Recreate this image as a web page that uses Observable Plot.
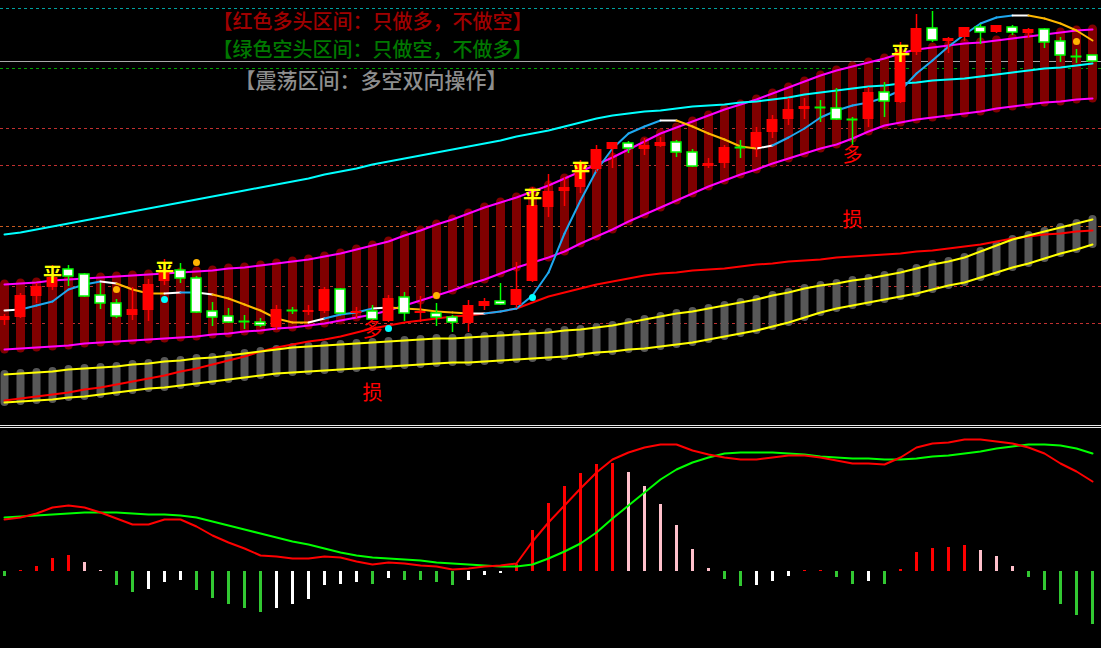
<!DOCTYPE html>
<html><head><meta charset="utf-8">
<script src="https://cdn.jsdelivr.net/npm/d3@7"></script>
<script src="https://cdn.jsdelivr.net/npm/@observablehq/plot@0.6"></script>
<style>
html,body{margin:0;padding:0;background:#000;overflow:hidden;}
#chart svg{display:block;}
</style></head><body><div id="chart"></div>
<script>
// ---------- data ----------
const candleOpen = [18.0,18.3,20.4,21.3,23.1,22.6,20.5,19.7,18.5,19.0, 21.9,23.0,22.2,18.9,18.4,17.9,17.8,17.3,19.0,18.8, 18.9,21.1,18.7,18.9,17.9,20.3,18.7,18.7,18.3,17.7, 19.4,19.9,19.5,21.9,29.3,30.9,31.3,33.1,35.1,35.7, 35.1,35.4,35.8,34.8,33.4,33.7,35.3,35.3,36.8,38.1, 39.1,39.3,39.2,38.1,38.1,40.8,39.8,44.8,47.2,45.9, 46.3,47.3,46.8,47.3,46.7,47.1,45.9,44.4,44.5];
const candleHigh = [18.6,20.7,21.7,23.5,23.5,22.7,21.7,20.1,21.3,22.1, 24.1,23.7,22.4,19.8,19.2,18.5,18.2,19.5,19.3,19.5, 21.3,21.2,19.3,19.5,20.5,20.8,20.4,19.7,18.5,20.0, 20.2,21.7,23.8,31.3,32.6,32.3,34.0,35.5,35.8,35.9, 36.2,36.3,36.0,35.1,34.2,35.5,36.0,37.3,38.5,40.2, 40.2,40.0,41.2,38.3,41.3,41.8,45.8,48.6,48.9,46.3, 47.3,47.6,47.5,47.5,47.2,47.2,46.3,45.1,44.5];
const candleLow = [17.5,18.2,19.7,21.0,21.4,20.3,19.1,18.2,18.0,17.9, 21.5,21.7,18.7,17.4,17.7,17.1,17.3,17.0,18.6,18.5, 18.7,18.6,18.2,18.0,17.8,17.9,17.8,17.4,16.8,16.8, 19.0,19.5,19.2,21.8,28.3,29.4,30.7,32.8,33.2,34.7, 34.5,35.3,34.3,33.3,33.2,33.2,34.2,34.3,36.2,37.5, 38.1,37.8,38.0,35.5,37.3,38.3,39.7,44.5,45.8,44.7, 45.9,45.6,46.7,46.5,46.2,45.2,43.8,43.7,43.8];
const candleClose = [18.4,20.5,21.4,22.3,22.4,20.4,19.7,18.4,19.1,21.6, 22.8,22.2,18.8,18.3,17.8,17.9,17.5,19.1,19.0,19.0, 21.1,18.7,18.9,18.1,20.2,18.7,18.9,18.3,17.8,19.5, 19.9,19.6,21.1,29.5,30.9,31.3,33.7,35.1,35.8,35.2, 35.5,35.8,34.8,33.4,33.7,35.3,35.3,36.8,38.1,39.1, 39.4,39.3,38.1,38.1,40.8,39.9,44.8,47.2,46.0,46.2, 47.3,46.8,47.5,46.8,47.1,45.8,44.5,44.4,43.9];

const bandUpper = [21.6,21.7,21.8,22.0,22.1,22.2,22.3,22.4,22.5,22.6, 22.7,22.8,22.9,23.0,23.2,23.3,23.5,23.7,23.9,24.1, 24.4,24.7,25.1,25.5,25.9,26.5,27.0,27.6,28.1,28.7, 29.3,29.8,30.3,30.9,31.5,32.2,32.9,33.6,34.3,35.1, 35.9,36.7,37.3,37.9,38.5,39.1,39.6,40.1,40.7,41.3, 41.9,42.5,43.0,43.4,43.8,44.2,44.7,45.1,45.3,45.5, 45.7,45.8,46.0,46.2,46.4,46.6,46.8,47.0,47.1];
const bandLower = [15.1,15.2,15.3,15.4,15.5,15.7,15.8,15.9,16.0,16.1, 16.2,16.3,16.4,16.6,16.7,16.9,17.0,17.2,17.3,17.5, 17.7,18.0,18.3,18.6,19.0,19.5,20.0,20.5,21.0,21.6, 22.1,22.7,23.3,23.8,24.3,24.9,25.7,26.4,27.1,27.9, 28.6,29.3,30.0,30.7,31.4,32.0,32.6,33.1,33.7,34.2, 34.7,35.2,35.6,36.2,36.9,37.5,37.8,38.1,38.3,38.5, 38.7,38.9,39.2,39.4,39.6,39.8,39.9,40.1,40.2];
const channelUpper = [12.6,12.7,12.8,12.9,13.1,13.2,13.3,13.4,13.6,13.7, 13.9,14.0,14.2,14.3,14.5,14.7,14.9,15.1,15.3,15.4, 15.5,15.6,15.7,15.8,15.9,16.0,16.1,16.2,16.2,16.3, 16.4,16.5,16.6,16.7,16.8,17.0,17.1,17.3,17.5,17.8, 18.1,18.4,18.7,18.9,19.2,19.5,19.8,20.1,20.5,20.8, 21.2,21.5,21.7,22.0,22.2,22.5,22.8,23.2,23.6,23.9, 24.3,24.9,25.5,26.1,26.5,26.9,27.3,27.7,28.1];
const channelLower = [9.8,9.9,10.0,10.1,10.3,10.4,10.6,10.8,11.0,11.2, 11.3,11.5,11.7,11.9,12.1,12.3,12.5,12.7,12.8,12.9, 13.0,13.1,13.2,13.3,13.4,13.5,13.6,13.7,13.8,13.8, 13.9,14.0,14.1,14.2,14.3,14.4,14.6,14.8,14.9,15.1, 15.2,15.4,15.6,15.8,16.1,16.4,16.7,17.0,17.4,17.8, 18.3,18.8,19.2,19.5,19.8,20.1,20.4,20.7,21.1,21.5, 21.8,22.3,22.8,23.3,23.7,24.2,24.7,25.1,25.6];
const maRed = [10.0,10.2,10.4,10.6,10.8,11.1,11.3,11.6,11.9,12.2, 12.5,12.9,13.2,13.6,14.0,14.4,14.9,15.3,15.6,15.9, 16.1,16.4,16.8,17.2,17.5,17.8,18.0,18.2,18.4,18.5, 18.7,18.9,19.2,19.8,20.4,20.8,21.2,21.6,21.9,22.2, 22.5,22.7,22.8,23.0,23.1,23.2,23.4,23.6,23.7,23.9, 24.0,24.1,24.3,24.4,24.5,24.6,24.7,24.9,25.0,25.2, 25.4,25.6,25.9,26.2,26.4,26.6,26.7,26.9,27.0];
const maCyan = [26.6,26.8,27.1,27.4,27.7,28.0,28.3,28.6,28.9,29.2, 29.5,29.8,30.1,30.4,30.7,31.0,31.3,31.6,31.9,32.2, 32.6,32.9,33.2,33.6,33.9,34.2,34.5,34.8,35.1,35.4, 35.7,36.0,36.4,36.7,37.0,37.4,37.8,38.2,38.5,38.7, 38.9,39.0,39.2,39.4,39.5,39.6,39.8,39.9,40.1,40.3, 40.6,40.8,41.0,41.2,41.4,41.5,41.7,41.8,42.0,42.1, 42.2,42.4,42.6,42.8,43.0,43.2,43.3,43.5,43.7];
const trendLine = [19.0,19.1,19.5,19.9,21.1,21.6,21.9,21.7,21.1,20.7, 20.7,20.8,20.8,20.6,20.2,19.6,19.0,18.2,17.8,17.8, 18.2,18.6,18.8,19.2,19.3,19.2,19.1,18.9,18.8,18.7, 18.7,18.9,19.2,20.5,22.8,26.7,30.0,33.0,35.2,36.7, 37.4,38.0,38.0,37.4,36.7,36.1,35.4,35.2,35.5,36.3, 37.2,38.3,39.0,39.5,39.8,40.3,41.0,42.7,44.0,45.4, 46.6,47.7,48.3,48.5,48.5,48.2,47.7,47.0,46.0];
// colour state of each segment: b = rising, w = flat, o = falling
const trendState = "wbbbbbwooowbwoooooowbbbwooooowbbbbbbbbbbbwooooowbbbbbbbbbbbbbbbwooooo".split("");

const pingIdx = [3,10,33,36,56];          const pingPrice = [22.6,23.0,30.3,33.0,44.7];
const orangeDotIdx = [7,12,27,67];        const orangeDotPrice = [21.1,23.8,20.5,45.9];
const cyanDotIdx = [10,24,33];            const cyanDotPrice = [20.1,17.2,20.3];
const duoIdx = [23,53];                   const duoPrice = [17.0,34.5];
const sunIdx = [23,53];                   const sunPrice = [10.7,28.0];

const levelTeal = [49.2], levelGray = [43.9], levelGreen = [43.2];
const levelRed = [37.2,33.5,21.4,17.7], levelOrange = [27.4];
const separators = [7.5,7.3];

const titles = ["【红色多头区间：只做多，不做空】","【绿色空头区间：只做空，不做多】","【震荡区间：多空双向操作】"];
const titlePrice = [47.8,45.0,41.9];

const dif = [0.52,0.54,0.58,0.64,0.66,0.64,0.59,0.53,0.47,0.47, 0.52,0.52,0.45,0.36,0.29,0.23,0.16,0.15,0.13,0.13, 0.15,0.14,0.10,0.07,0.09,0.08,0.06,0.05,0.02,0.03, 0.05,0.06,0.08,0.30,0.49,0.66,0.83,0.99,1.12,1.19, 1.24,1.27,1.27,1.21,1.17,1.14,1.12,1.12,1.14,1.16, 1.16,1.14,1.11,1.08,1.08,1.07,1.14,1.24,1.28,1.29, 1.32,1.32,1.30,1.28,1.24,1.18,1.08,1.00,0.90];
const dea = [0.54,0.55,0.56,0.57,0.58,0.59,0.59,0.59,0.58,0.57, 0.57,0.56,0.54,0.50,0.46,0.42,0.38,0.34,0.30,0.27, 0.23,0.19,0.16,0.14,0.13,0.12,0.11,0.09,0.08,0.07, 0.06,0.05,0.05,0.07,0.13,0.20,0.28,0.39,0.53,0.66, 0.79,0.92,1.02,1.09,1.14,1.18,1.19,1.19,1.19,1.18, 1.17,1.15,1.14,1.13,1.13,1.12,1.12,1.13,1.15,1.16, 1.18,1.20,1.23,1.25,1.27,1.27,1.26,1.23,1.18];
const hist = [-0.05,0.01,0.05,0.13,0.16,0.09,0.01,-0.14,-0.21,-0.18, -0.11,-0.09,-0.19,-0.27,-0.33,-0.37,-0.41,-0.37,-0.33,-0.28, -0.14,-0.13,-0.11,-0.13,-0.07,-0.09,-0.09,-0.11,-0.14,-0.09, -0.04,-0.02,0.07,0.41,0.68,0.85,0.98,1.07,1.08,0.99, 0.85,0.67,0.46,0.22,0.03,-0.08,-0.15,-0.14,-0.10,-0.05, 0.01,0.01,-0.06,-0.13,-0.10,-0.13,0.02,0.19,0.23,0.24, 0.26,0.21,0.15,0.05,-0.06,-0.19,-0.33,-0.44,-0.53];

// ---------- build ----------
const N = candleOpen.length;
const idx = d3.range(N);
const candles = idx.map(i => ({i, open: candleOpen[i], high: candleHigh[i], low: candleLow[i], close: candleClose[i]}));
const ups = candles.filter(d => d.close > d.open);
const downs = candles.filter(d => d.close < d.open);
const dojis = candles.filter(d => d.close === d.open);
const segs = idx.slice(0, N - 1).map(i => ({x1: i, y1: trendLine[i], x2: i + 1, y2: trendLine[i + 1], s: trendState[i]}));
const trendColor = {b: "#1ea8f0", w: "#ffffff", o: "#ffb800"};
const pts = (ix, pr) => ix.map((i, k) => ({i, p: pr[k]}));
const CJK = "Noto Sans CJK SC";
const xDomain = [-0.25, 68.5625];
const hw = 0.34;

const upperChart = Plot.plot({
  width: 1101, height: 428, margin: 0,
  x: {domain: xDomain, axis: null},
  y: {domain: [7.2, 50], axis: null},
  color: {type: "identity"},
  style: {background: "#000"},
  marks: [
    Plot.ruleY(levelTeal, {stroke: "#00a0a0", strokeDasharray: "3,3"}),
    Plot.ruleY(levelGreen, {stroke: "#00a000", strokeDasharray: "3,3"}),
    Plot.ruleY(levelRed, {stroke: "#c03030", strokeDasharray: "3,3"}),
    Plot.ruleY(levelOrange, {stroke: "#c85a20", strokeDasharray: "3,3"}),
    Plot.ruleY(levelGray, {stroke: "#a8a8a8"}),
    Plot.ruleX(idx, {x: i => i, y1: i => channelLower[i], y2: i => channelUpper[i], stroke: "#585858", strokeWidth: 8, strokeLinecap: "round"}),
    Plot.ruleX(idx, {x: i => i, y1: i => bandLower[i], y2: i => bandUpper[i], stroke: "#800000", strokeWidth: 9, strokeLinecap: "round"}),
    Plot.line(idx, {x: i => i, y: i => maRed[i], stroke: "#ff0000", strokeWidth: 2}),
    Plot.line(idx, {x: i => i, y: i => channelUpper[i], stroke: "#ffff00", strokeWidth: 2}),
    Plot.line(idx, {x: i => i, y: i => channelLower[i], stroke: "#ffff00", strokeWidth: 2}),
    Plot.line(idx, {x: i => i, y: i => bandUpper[i], stroke: "#ff00ff", strokeWidth: 2}),
    Plot.line(idx, {x: i => i, y: i => bandLower[i], stroke: "#ff00ff", strokeWidth: 2}),
    Plot.line(idx, {x: i => i, y: i => maCyan[i], stroke: "#00ffff", strokeWidth: 2}),
    Plot.link(segs, {x1: "x1", y1: "y1", x2: "x2", y2: "y2", stroke: d => trendColor[d.s], strokeWidth: 2, strokeLinecap: "round"}),
    Plot.ruleX(candles, {x: "i", y1: "low", y2: "high", stroke: d => d.close > d.open ? "#ff0000" : "#00ff00", strokeWidth: 1.5}),
    Plot.rect(ups, {x1: d => d.i - hw, x2: d => d.i + hw, y1: "open", y2: "close", fill: "#ff0000"}),
    Plot.rect(downs, {x1: d => d.i - hw + 0.03, x2: d => d.i + hw - 0.03, y1: "open", y2: "close", fill: "#ffffff", stroke: "#00ff00", strokeWidth: 1.5}),
    Plot.ruleY(dojis, {y: "close", x1: d => d.i - hw, x2: d => d.i + hw, stroke: "#00ff00", strokeWidth: 2}),
    Plot.dot(pts(orangeDotIdx, orangeDotPrice), {x: "i", y: "p", r: 3.5, fill: "#ffb400"}),
    Plot.dot(pts(cyanDotIdx, cyanDotPrice), {x: "i", y: "p", r: 3.5, fill: "#00ffff"}),
    Plot.text(pts(pingIdx, pingPrice), {x: "i", y: "p", text: () => "平", fill: "#ffff00", fontSize: 19, fontWeight: "bold", fontFamily: CJK}),
    Plot.text(pts(duoIdx, duoPrice), {x: "i", y: "p", text: () => "多", fill: "#ff0000", fontSize: 20, fontFamily: CJK}),
    Plot.text(pts(sunIdx, sunPrice), {x: "i", y: "p", text: () => "损", fill: "#ff0000", fontSize: 20, fontFamily: CJK}),
    Plot.text([titles[0]], {x: 23, y: titlePrice[0], text: d => d, fill: "#a00000", fontSize: 20, fontWeight: 500, fontFamily: CJK}),
    Plot.text([titles[1]], {x: 23, y: titlePrice[1], text: d => d, fill: "#007800", fontSize: 20, fontWeight: 500, fontFamily: CJK}),
    Plot.text([titles[2]], {x: 22.9, y: titlePrice[2], text: d => d, fill: "#8e8e8e", fontSize: 21, fontWeight: 500, fontFamily: CJK}),
    Plot.ruleY(separators, {stroke: "#e8e8e8"})
  ]
});

const macd = idx.map(i => ({i, dif: dif[i], dea: dea[i], h: hist[i], prev: i > 0 ? hist[i - 1] : 0}));
const histColor = d => d.h >= 0 ? (d.h >= d.prev ? "#ff0000" : "#ffc0cb") : (d.h <= d.prev ? "#32c832" : "#ffffff");

const lowerChart = Plot.plot({
  width: 1101, height: 220, margin: 0,
  x: {domain: xDomain, axis: null},
  y: {domain: [-0.77, 1.43], axis: null},
  color: {type: "identity"},
  style: {background: "#000"},
  marks: [
    Plot.ruleX(macd, {x: "i", y1: 0, y2: "h", stroke: histColor, strokeWidth: 3}),
    Plot.line(macd, {x: "i", y: "dea", stroke: "#00ff00", strokeWidth: 2}),
    Plot.line(macd, {x: "i", y: "dif", stroke: "#ff0000", strokeWidth: 2})
  ]
});

const chartEl = document.getElementById("chart");
chartEl.appendChild(upperChart);
chartEl.appendChild(lowerChart);
</script></body></html>
